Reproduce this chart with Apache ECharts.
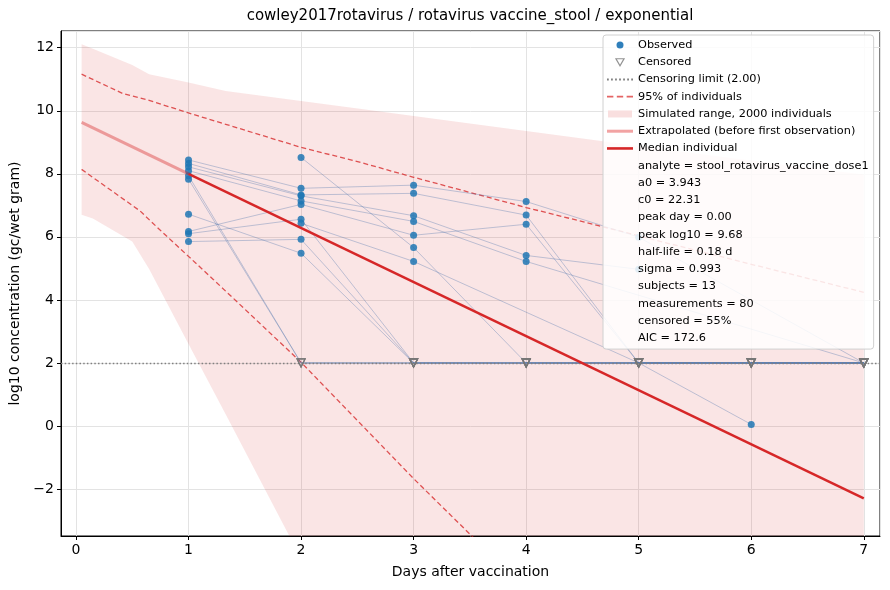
<!DOCTYPE html>
<html>
<head>
<meta charset="utf-8">
<title>cowley2017rotavirus / rotavirus vaccine_stool / exponential</title>
<script src="https://cdn.jsdelivr.net/npm/echarts@6/dist/echarts.min.js"></script>
<style>
    html, body { margin: 0; padding: 0; background: #fff; }
    #chart { width: 890px; height: 590px; }
</style>
</head>
<body>
<div id="chart"></div>
<script>
// sampling days and censoring limit
const days = [1, 2, 3, 4, 5, 6, 7];
const censorLimit = 2.0;

// log10 values per subject by day (null = not sampled, 2.0 = censored)
const subjA = [8.44, 7.54, 7.64, 7.12, 5.99, null, 2];
const subjB = [8.33, 7.33, 7.38, 6.69, 2, 2, 2];
const subjC = [8.22, 7.30, 6.67, 5.41, 4.97, null, null];
const subjD = [8.10, 7.14, 6.49, 5.22, null, null, 2];
const subjE = [7.94, 2, 2, 2, 2, 2, 2];
const subjF = [7.83, 2, 2, 2, 2, 2, 2];
const subjG = [6.72, 5.48, 2, 2, 2, 2, 2];
const subjH = [6.17, 7.03, 6.05, 6.40, 2, 2, 2];
const subjI = [6.10, 6.56, 2, 2, 2, 2, 2];
const subjJ = [5.85, 5.92, 2, 2, 2, 2, 2];
const subjK = [null, 8.52, 5.66, 2, 2, 2, 2];
const subjL = [null, 6.43, 5.22, null, 2, 0.05, null];
const subjM = [null, 2, 2, 2, 2, 2, 2];
const subjects = [subjA, subjB, subjC, subjD, subjE, subjF, subjG, subjH, subjI, subjJ, subjK, subjL, subjM];

// simulated range (2000 individuals)
const bandX = [0.05, 0.15, 0.5, 0.65, 1, 1.33, 2, 2.52, 3, 4, 5, 6, 7];
const bandUpper = [12.11, 11.97, 11.45, 11.16, 10.9, 10.63, 10.31, 10.06, 9.83, 9.36, 8.88, 8.42, 7.98];
const bandLower = [6.70, 6.58, 5.85, 4.98, 2.6, 0.37, -4.2, -7.8, -11, -17, -23, -29, -35];

// 95% of individuals
const upper95X = [0.05, 0.42, 0.65, 1, 2, 2.52, 3, 4, 4.65, 5, 6, 7];
const upper95Y = [11.16, 10.54, 10.33, 9.93, 8.84, 8.37, 7.89, 6.93, 6.35, 6.03, 5.13, 4.24];
const lower95X = [0.05, 0.57, 0.74, 1, 1.22, 2, 3, 3.52, 5, 7];
const lower95Y = [8.14, 6.82, 6.24, 5.38, 4.65, 2.02, -1.67, -3.5, -8.7, -16];

// median individual and extrapolation before first observation
const medianX = [1, 7];
const medianY = [8.0, -2.3];
const extrapX = [0.05, 1];
const extrapY = [9.63, 8.0];

// fit summary lines shown in the legend
const statLines = [
    'analyte = stool_rotavirus_vaccine_dose1',
    'a0 = 3.943',
    'c0 = 22.31',
    'peak day = 0.00',
    'peak log10 = 9.68',
    'half-life = 0.18 d',
    'sigma = 0.993',
    'subjects = 13',
    'measurements = 80',
    'censored = 55%',
    'AIC = 172.6'
];

const xRange = [-0.133, 7.144];
const yRange = [-3.49, 12.53];
const FONT = 'DejaVu Sans';

const pairs = (xs, ys) => xs.map((x, i) => [x, ys[i]]);

function minusFmt(v) {
    return v < 0 ? '\u2212' + Math.abs(v) : String(v);
}

// observed / censored points from subject values
const observed = [];
const censored = [];
subjects.forEach(s => {
    s.forEach((v, i) => {
        if (v == null) return;
        if (v === censorLimit) censored.push([days[i], v]);
        else observed.push([days[i], v]);
    });
});

const subjectSeries = subjects.map((s, k) => ({
    type: 'line',
    name: 'subject ' + (k + 1),
    data: s.map((v, i) => [days[i], v]),
    connectNulls: true,
    showSymbol: false,
    silent: true,
    z: 3,
    lineStyle: { color: 'rgb(70,110,170)', opacity: 0.34, width: 1 }
}));

// legend icons
let dotted = '';
for (let i = 0; i < 7; i++) dotted += 'M' + (i * 3.6) + ',0h1.6v1.6h-1.6z ';
const dashed = 'M0,0h5.5v1.5h-5.5z M8.5,0h5.5v1.5h-5.5z M17,0h5.5v1.5h-5.5z';

const legendData = [
    { name: 'Observed', icon: 'circle', itemStyle: { color: '#2f7fbb', borderWidth: 0, opacity: 1 } },
    { name: 'Censored', icon: 'path://M0,0L10,0L5,8.7Z', itemStyle: { color: 'rgba(0,0,0,0)', borderColor: '#777', borderWidth: 1.2 } },
    { name: 'Censoring limit (2.00)', icon: 'path://' + dotted, itemStyle: { color: '#808080', borderWidth: 0 } },
    { name: '95% of individuals', icon: 'path://' + dashed, itemStyle: { color: '#e46464', borderWidth: 0 } },
    { name: 'Simulated range, 2000 individuals', icon: 'path://M0,0h24v7h-24z', itemStyle: { color: '#f9dfdf', borderWidth: 0 } },
    { name: 'Extrapolated (before first observation)', icon: 'path://M0,0h26v3h-26z', itemStyle: { color: '#f2a3a3', borderWidth: 0 } },
    { name: 'Median individual', icon: 'path://M0,0h26v2.6h-26z', itemStyle: { color: '#d62728', borderWidth: 0 } }
].concat(statLines.map(t => ({ name: t, icon: 'none' })));

const chart = echarts.init(document.getElementById('chart'), null, { renderer: 'canvas' });

chart.setOption({
    animation: false,
    backgroundColor: '#fff',
    textStyle: { fontFamily: FONT },
    title: {
        text: 'cowley2017rotavirus / rotavirus vaccine_stool / exponential',
        left: 470,
        textAlign: 'center',
        top: 9,
        padding: 0,
        textStyle: { fontFamily: FONT, fontSize: 15, fontWeight: 'normal', color: '#000' }
    },
    grid: {
        left: 61, right: 10, top: 31, bottom: 54,
        show: true, borderColor: '#000', borderWidth: 1, backgroundColor: 'transparent'
    },
    legend: {
        orient: 'vertical',
        left: 603,
        top: 35,
        z: 20,
        padding: [3, 5, 4, 4],
        itemWidth: 26,
        itemHeight: 7,
        itemGap: 3.24,
        selectedMode: false,
        backgroundColor: 'rgba(255,255,255,0.85)',
        borderColor: '#d0d0d0',
        borderWidth: 1,
        borderRadius: 3,
        textStyle: { fontFamily: FONT, fontSize: 11.3, color: '#000', lineHeight: 14 },
        data: legendData
    },
    xAxis: {
        type: 'value',
        min: xRange[0],
        max: xRange[1],
        splitNumber: 7,
        minInterval: 1,
        maxInterval: 1,
        name: 'Days after vaccination',
        nameLocation: 'middle',
        nameGap: 29,
        nameTextStyle: { fontFamily: FONT, fontSize: 14, color: '#000' },
        axisLine: { show: true, onZero: false, lineStyle: { color: '#000', width: 1 } },
        axisTick: { show: true, length: 4, lineStyle: { color: '#000' } },
        axisLabel: {
            fontFamily: FONT, fontSize: 14, color: '#000', margin: 7,
            showMinLabel: false, showMaxLabel: false, formatter: minusFmt
        },
        splitLine: { show: true, lineStyle: { color: '#e3e3e3', width: 1 } }
    },
    yAxis: {
        type: 'value',
        min: yRange[0],
        max: yRange[1],
        splitNumber: 8,
        minInterval: 2,
        maxInterval: 2,
        name: 'log10 concentration (gc/wet gram)',
        nameLocation: 'middle',
        nameGap: 36,
        nameTextStyle: { fontFamily: FONT, fontSize: 14, color: '#000' },
        axisLine: { show: true, onZero: false, lineStyle: { color: '#000', width: 1 } },
        axisTick: { show: true, length: 4, lineStyle: { color: '#000' } },
        axisLabel: {
            fontFamily: FONT, fontSize: 14, color: '#000', margin: 7,
            showMinLabel: false, showMaxLabel: false, formatter: minusFmt
        },
        splitLine: { show: true, lineStyle: { color: '#e3e3e3', width: 1 } }
    },
    series: [
        {
            type: 'custom',
            name: 'Simulated range, 2000 individuals',
            clip: true,
            silent: true,
            z: 1,
            data: [[1, 5]],
            renderItem: function (params, api) {
                const top = bandX.map((x, i) => api.coord([x, bandUpper[i]]));
                const bottom = bandX.map((x, i) => api.coord([x, bandLower[i]])).reverse();
                return {
                    type: 'polygon',
                    shape: { points: top.concat(bottom) },
                    style: { fill: '#d62728', opacity: 0.12 }
                };
            }
        },
        {
            type: 'line', name: '95% of individuals', data: pairs(upper95X, upper95Y),
            showSymbol: false, silent: true, z: 2,
            lineStyle: { color: '#d62728', opacity: 0.78, width: 1.3, type: [5, 3] }
        },
        {
            type: 'line', name: '95% of individuals', data: pairs(lower95X, lower95Y),
            showSymbol: false, silent: true, z: 2,
            lineStyle: { color: '#d62728', opacity: 0.78, width: 1.3, type: [5, 3] }
        }
    ].concat(subjectSeries).concat([
        {
            type: 'line', name: 'Censoring limit (2.00)', data: [],
            color: '#808080', silent: true, z: 4,
            markLine: {
                symbol: 'none', silent: true, label: { show: false },
                lineStyle: { color: '#808080', width: 1.4, type: [1.5, 2.2] },
                data: [{ yAxis: censorLimit }]
            }
        },
        {
            type: 'scatter', name: 'Observed', data: observed, z: 5,
            symbol: 'circle', symbolSize: 7,
            itemStyle: { color: '#1f77b4', opacity: 0.85 }
        },
        {
            type: 'scatter', name: 'Censored', data: censored, z: 6,
            symbol: 'triangle', symbolRotate: 180, symbolSize: 8,
            itemStyle: { color: 'rgba(0,0,0,0)', borderColor: '#777', borderWidth: 1.2 }
        },
        {
            type: 'line', name: 'Extrapolated (before first observation)', data: pairs(extrapX, extrapY),
            showSymbol: false, silent: true, z: 7,
            lineStyle: { color: '#d62728', opacity: 0.4, width: 3 }
        },
        {
            type: 'line', name: 'Median individual', data: pairs(medianX, medianY),
            showSymbol: false, silent: true, z: 8,
            lineStyle: { color: '#d62728', width: 2.5 }
        }
    ]).concat(statLines.map(t => ({ type: 'line', name: t, data: [] })))
});
</script>
</body>
</html>
